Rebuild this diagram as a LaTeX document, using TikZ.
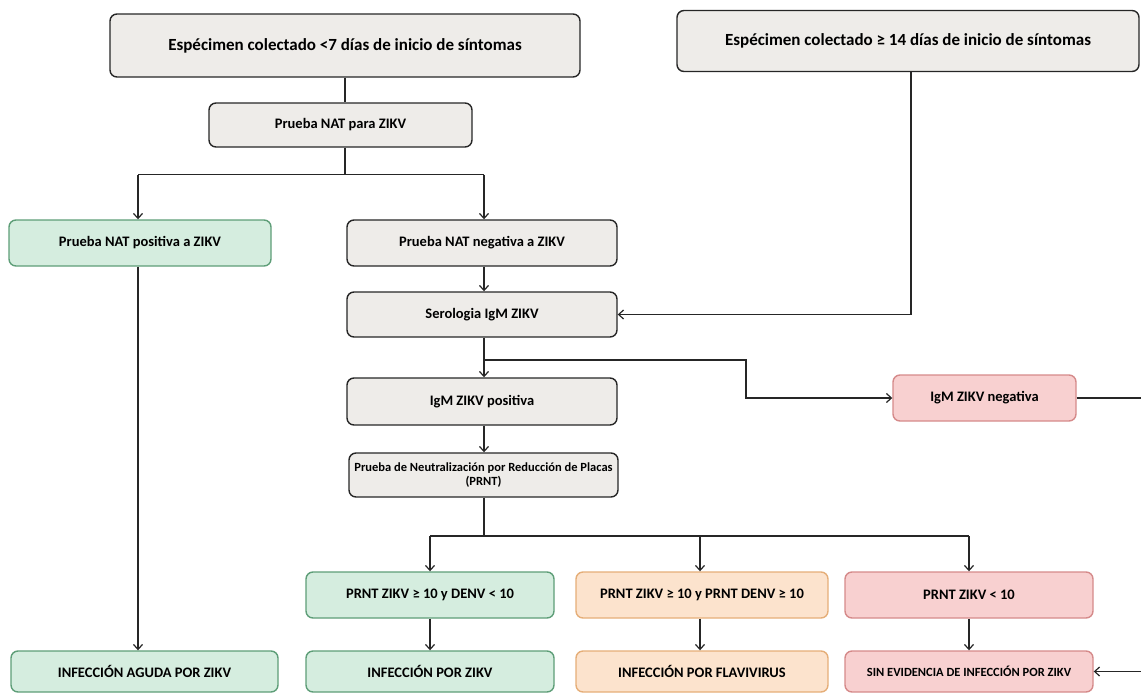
\documentclass[tikz,border=0pt]{standalone}
\usepackage{fontspec}
\setmainfont{Carlito}
\usetikzlibrary{arrows.meta}
\definecolor{boxgray}{HTML}{EEECE9}
\definecolor{okfill}{HTML}{D5EDDF}
\definecolor{okdraw}{HTML}{5E9E78}
\definecolor{flfill}{HTML}{FCE3CD}
\definecolor{fldraw}{HTML}{E5AE78}
\definecolor{nofill}{HTML}{F8D0D0}
\definecolor{nodraw}{HTML}{D58A8A}
\tikzset{
  box/.style={draw=black!85,fill=boxgray,line width=1.4pt,rounded corners=7pt,
    align=center,inner sep=1pt,font=\bfseries\fontsize{14.5}{16}\selectfont},
  okbox/.style={box,draw=okdraw,fill=okfill},
  flbox/.style={box,draw=fldraw,fill=flfill},
  nobox/.style={box,draw=nodraw,fill=nofill},
  small/.style={font=\bfseries\fontsize{12.5}{14}\selectfont},
  link/.style={line width=1.2pt,black!85}
}
\begin{document}
\begin{tikzpicture}[x=1pt,y=-1pt,>={Straight Barb[length=5pt,width=9pt]}]
	\useasboundingbox (0,0) rectangle (1141,694);
	\clip (0,0) rectangle (1141,694);
	% first row
	\node[box,minimum width=470,minimum height=63,font=\bfseries\fontsize{17}{19}\selectfont] (top1) at (345,45.5) {Espécimen colectado <7 días de inicio de síntomas};
	\node[box,minimum width=462,minimum height=61,font=\bfseries\fontsize{17}{19}\selectfont] (top2) at (908,41) {Espécimen colectado ≥ 14 días de inicio de síntomas};
	\node[box,minimum width=263,minimum height=44] (nat) at (340.5,125) {Prueba NAT para ZIKV};
	\node[okbox,minimum width=262,minimum height=46] (pos) at (140,243) {Prueba NAT positiva a ZIKV};
	\node[box,minimum width=270,minimum height=46] (neg) at (482,243) {Prueba NAT negativa a ZIKV};
	\node[box,minimum width=270,minimum height=45] (sero) at (482,314.5) {Serologia IgM ZIKV};
	\node[box,minimum width=270,minimum height=47] (igmpos) at (482,401.5) {IgM ZIKV positiva};
	\node[nobox,minimum width=183,minimum height=46] (igmneg) at (984.5,398) {IgM ZIKV negativa};
	\node[box,small,minimum width=269,minimum height=44] (prnt) at (483.5,475) {Prueba de Neutralización por Reducción de Placas\\(PRNT)};
	% PRNT results
	\node[okbox,minimum width=248,minimum height=46] (res1) at (430,595) {PRNT ZIKV ≥ 10 y DENV < 10};
	\node[flbox,minimum width=252,minimum height=46] (res2) at (702,595) {PRNT ZIKV ≥ 10 y PRNT DENV ≥ 10};
	\node[nobox,minimum width=248,minimum height=46] (res3) at (969,595) {PRNT ZIKV < 10};
	% final results
	\node[okbox,minimum width=267,minimum height=41] (fin0) at (144.5,671.5) {INFECCIÓN AGUDA POR ZIKV};
	\node[okbox,minimum width=248,minimum height=41] (fin1) at (430,671.5) {INFECCIÓN POR ZIKV};
	\node[flbox,minimum width=252,minimum height=41] (fin2) at (702,671.5) {INFECCIÓN POR FLAVIVIRUS};
	\node[nobox,small,minimum width=248,minimum height=41] (fin3) at (969,671.5) {SIN EVIDENCIA DE INFECCIÓN POR ZIKV};
	% connectors
	\draw[link] (top1.south) -- (top1.south |- nat.north);
	\draw[link] (nat.south -| top1.south) -- ++(0,27) coordinate (split1);
	\draw[link] (split1 -| 138,0) -- (split1 -| 484,0);
	\draw[link,->] (split1 -| 138,0) -- (138,0 |- pos.north);
	\draw[link,->] (split1 -| 484,0) -- (484,0 |- neg.north);
	\draw[link,->] (neg.south -| 484,0) -- (484,0 |- sero.north);
	\draw[link,->] (top2.south -| 911,0) |- (sero.east);
	\draw[link] (sero.south -| 484,0) -- (484,360) coordinate (split2);
	\draw[link,->] (split2) -- (484,0 |- igmpos.north);
	\draw[link,->] (split2) -- (746,360) |- (igmneg.west);
	\draw[link,->] (igmneg.east) -- (1170,398) |- (fin3.east);
	\draw[link,->] (igmpos.south -| 484,0) -- (484,0 |- prnt.north);
	\draw[link] (prnt.south -| 484,0) -- (484,536) coordinate (split3);
	\draw[link] (split3 -| res1) -- (split3 -| res3);
	\draw[link,->] (split3 -| res1) -- (res1.north);
	\draw[link,->] (split3 -| 700,0) -- (700,0 |- res2.north);
	\draw[link,->] (split3 -| res3) -- (res3.north);
	\draw[link,->] (pos.south -| 138,0) -- (138,0 |- fin0.north);
	\draw[link,->] (res1.south) -- (fin1.north);
	\draw[link,->] (res2.south -| 700,0) -- (700,0 |- fin2.north);
	\draw[link,->] (res3.south) -- (fin3.north);
\end{tikzpicture}
\end{document}
